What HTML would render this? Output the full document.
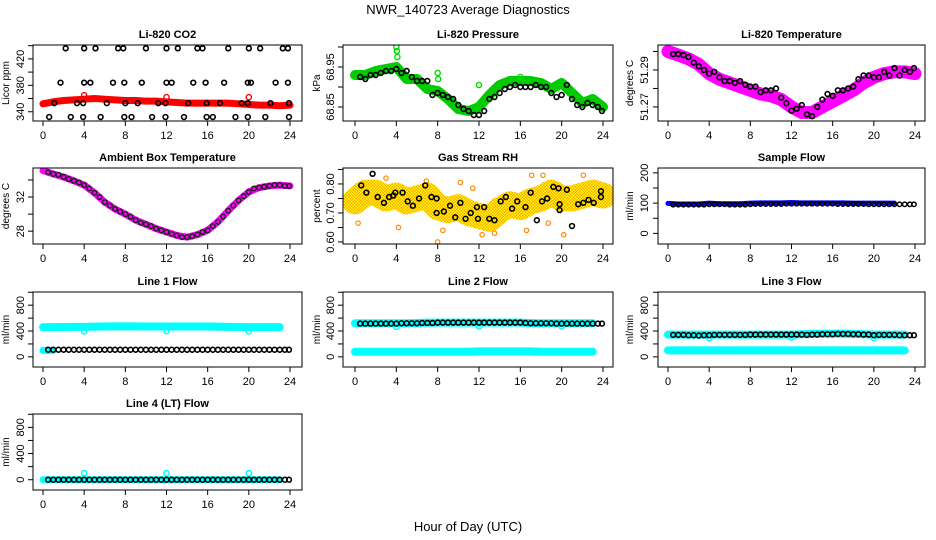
<!DOCTYPE html>
<html><head><meta charset="utf-8"><style>
body{margin:0;background:#fff;}
svg{display:block;font-family:"Liberation Sans",Arial,sans-serif;}
</style></head><body>
<svg id="c" width="936" height="540" viewBox="0 0 936 540" xmlns="http://www.w3.org/2000/svg">
<defs>
<pattern id="rhpat" width="3" height="3" patternUnits="userSpaceOnUse"><rect width="3" height="3" fill="#ffa500"/><rect width="1.5" height="1.5" fill="#ff0"/><rect x="1.5" y="1.5" width="1.5" height="1.5" fill="#ff0"/></pattern>
</defs>
<text x="468" y="14" text-anchor="middle" font-size="13">NWR_140723  Average Diagnostics</text>
<text x="468" y="531" text-anchor="middle" font-size="13">Hour of Day (UTC)</text>
</svg>
<script>
// shared hour positions
const HH=[0.5,1,1.5,2,2.5,3,3.5,4,4.5,5,5.5,6,6.5,7,7.5,8,8.5,9,9.5,10,10.5,11,11.5,12,12.5,13,13.5,14,14.5,15,15.5,16,16.5,17,17.5,18,18.5,19,19.5,20,20.5,21,21.5,22,22.5,23,23.5,23.9];
const BH=[0,1,2,3,4,5,6,7,8,9,10,11,12,13,14,15,16,17,18,19,20,21,22,23,24];
const xTicks=[0,4,8,12,16,20,24];
// CO2
const co2Red=[352,355,357,358,359,360,359,358,357,357,356,356,355,354,353,353,353,353,353,352,351,350,350,349,350];
const co2BlackX=[2.2,4,5.1,7.3,7.8,10,12,13.1,15,15.5,18,20,21.1,23.3,23.8,1.7,4,4.6,6.8,7.9,9.6,12,12.5,14.6,15.8,17.6,19.9,20.2,22.6,23.8,0.6,2.7,3.9,5.6,7.9,8.6,10.6,11.9,13.7,15.9,16.5,18.7,19.9,21.6,23.9,1.1,3.3,3.9,6.2,8,9.2,11.2,11.9,14.1,15.9,17.2,19.3,19.9,22.1,23.9];
const co2BlackY=[436,436,436,436,436,436,436,436,436,436,436,436,436,436,436,384,384,384,384,384,384,384,384,384,384,384,384,384,384,384,332,332,332,332,332,332,332,332,332,332,332,332,332,332,332,353,353,353,353,353,353,353,353,353,353,353,353,353,353,353];
const co2OutX=[4,12,20];
const co2OutY=[365,362,362];
// Pressure
const presGreen=[68.93,68.93,68.94,68.945,68.95,68.92,68.92,68.895,68.89,68.87,68.845,68.84,68.85,68.88,68.905,68.915,68.915,68.915,68.91,68.895,68.91,68.885,68.86,68.87,68.85];
const presOutX=[4,4.05,4.1,8,8.05,12,16];
const presOutY=[69.0,68.99,68.975,68.935,68.92,68.905,68.925];
const presBlack=[68.925,68.92,68.93,68.93,68.935,68.94,68.94,68.945,68.935,68.94,68.925,68.915,68.915,68.915,68.88,68.885,68.88,68.875,68.87,68.855,68.845,68.84,68.83,68.83,68.84,68.87,68.875,68.885,68.895,68.9,68.905,68.9,68.9,68.9,68.905,68.9,68.9,68.885,68.875,68.88,68.905,68.87,68.855,68.85,68.86,68.855,68.85,68.84];
// Li-820 temperature
const tempMag=[51.300,51.298,51.296,51.293,51.288,51.285,51.283,51.281,51.279,51.277,51.276,51.274,51.270,51.267,51.267,51.270,51.273,51.276,51.279,51.283,51.286,51.288,51.289,51.289,51.288];
const tempBlack=[51.2986,51.2986,51.298,51.297,51.294,51.292,51.290,51.288,51.289,51.286,51.284,51.284,51.283,51.284,51.282,51.281,51.281,51.278,51.279,51.279,51.280,51.275,51.272,51.268,51.269,51.271,51.266,51.265,51.270,51.274,51.277,51.276,51.279,51.279,51.280,51.281,51.285,51.287,51.287,51.286,51.286,51.289,51.287,51.291,51.287,51.290,51.289,51.291];
// Ambient
const ambMag=[35.1,34.7,34.35,33.9,33.4,32.5,31.4,30.6,30.0,29.3,28.8,28.3,27.9,27.5,27.3,27.6,28.1,29.1,30.4,31.6,32.6,33.1,33.3,33.4,33.3];
const ambBlack=[34.9,34.7,34.6,34.35,34.1,33.9,33.7,33.4,33.0,32.5,32.0,31.4,31.0,30.6,30.3,30.0,29.7,29.3,29.0,28.8,28.6,28.3,28.1,27.9,27.7,27.5,27.3,27.3,27.4,27.6,27.9,28.1,28.6,29.1,29.7,30.4,31.0,31.6,32.1,32.6,33.0,33.1,33.2,33.3,33.4,33.4,33.3,33.3];
// RH
const rhCloud=[0.74,0.77,0.77,0.75,0.76,0.74,0.75,0.76,0.72,0.71,0.72,0.70,0.69,0.68,0.71,0.73,0.72,0.74,0.75,0.77,0.75,0.75,0.76,0.77,0.76];
const rhOutX=[3,4.2,6.9,8,8.5,10.2,11.4,12.3,13.5,17.1,18.2,18.7,20.2,22.1,0.3,16.6];
const rhOutY=[0.82,0.65,0.81,0.60,0.64,0.805,0.785,0.625,0.63,0.83,0.83,0.665,0.625,0.83,0.665,0.64];
const rhBlackX=[0.6,1.1,1.7,2.2,2.8,3.3,3.7,3.9,4.6,5.1,5.6,6.2,6.8,7.4,7.9,7.9,8.6,9.2,9.7,10.2,10.7,11.2,11.8,11.9,12.5,13,13.5,14.1,14.6,15.2,15.7,16.5,17,17.6,18.1,18.6,19.2,19.7,19.8,19.8,20.5,21,21.6,22.1,22.6,23.1,23.8,23.8];
const rhBlackY=[0.795,0.77,0.835,0.755,0.735,0.755,0.76,0.77,0.77,0.74,0.725,0.75,0.795,0.755,0.75,0.70,0.705,0.725,0.685,0.735,0.68,0.70,0.72,0.68,0.72,0.68,0.675,0.74,0.755,0.715,0.74,0.72,0.77,0.675,0.74,0.75,0.79,0.785,0.73,0.71,0.78,0.655,0.73,0.735,0.745,0.735,0.775,0.755];
// Sample flow
const sampBlue=[99,97,97,97,100,98,98,98,100,101,101,101,102,101,101,101,101,101,100,100,100,100,100];
const sampBlack=[95,95,95,95,95,95,95,96,96,96,96,95,95,95,95,96,97,97,97,97,97,97,98,98,98,98,98,98,98,98,98,98,97,97,97,97,97,97,96,96,96,96,96,96,96,96,96,96];
// Line flows
const l1CyanHi=[460,460,462,465,465,468,470,472,472,472,470,470,470,470,470,470,470,468,465,462,460,460,460,460];
const l1CyanLo=[100,100];
const l1Black=[110,110,110,110,110,110,110,110,110,110,110,110,110,110,110,110,110,110,110,110,110,110,110,110,110,110,110,110,110,110,110,110,110,110,110,110,110,110,110,110,110,110,110,110,110,110,110,110];
const l1OutX=[4,12,20];const l1OutY=[395,400,395];
const l2CyanHi=[520,520,520,520,520,520,525,530,530,530,530,530,530,530,530,530,530,525,520,520,520,520,520,520];
const l2CyanLo=[80,80,80,80,80,80,80,80,80,80,80,80,85,85,85,85,85,85,80,80,80,80,80,80];
const l2Black=[515,515,515,515,515,515,515,515,520,520,520,520,525,525,525,530,530,530,530,530,530,530,530,530,530,530,530,530,530,530,530,530,525,520,520,520,520,520,515,515,515,515,515,515,515,515,515,515];
const l2OutX=[4,12,20];const l2OutY=[465,470,470];
const l3CyanHi=[345,345,345,345,345,345,345,345,345,345,345,345,345,350,355,360,360,360,355,350,345,345,345,345];
const l3CyanLo=[100,100,100,100,100,100,100,100,100,100,100,100,100,100,100,100,100,100,100,100,100,100,100,100];
const l3Black=[340,340,340,335,335,330,335,335,340,340,340,340,340,340,340,345,345,345,345,345,345,345,345,345,345,345,340,345,345,350,350,350,355,355,355,350,350,345,345,335,340,340,340,340,335,335,335,335];
const l3OutX=[4,12,20];const l3OutY=[290,300,290];
const l4Cyan=[0,0,0,0,0,0,0,0,0,0,0,0,0,0,0,0,0,0,0,0,0,0,0,0];
const l4Black=[0,0,0,0,0,0,0,0,0,0,0,0,0,0,0,0,0,0,0,0,0,0,0,0,0,0,0,0,0,0,0,0,0,0,0,0,0,0,0,0,0,0,0,0,0,0,0,0];
const l4OutX=[4,12,20];const l4OutY=[100,100,100];

const svg=document.getElementById('c');
const NS='http://www.w3.org/2000/svg';
function mk(tag,attrs,parent){const e=document.createElementNS(NS,tag);for(const k in attrs)e.setAttribute(k,attrs[k]);(parent||svg).appendChild(e);return e;}
const COLS=[{b0:33,b1:302,x0:43,x24:290,lab:9,tl:24},{b0:343,b1:613,x0:355,x24:603,lab:320,tl:334},{b0:658,b1:925,x0:668,x24:915,lab:633,tl:648}];
const ROWS=[[45,121],[168,244],[292,367],[414,490]];
function panel(name,col,row,title,ylab,ymin,ymax,ticks,labels){
  const C=COLS[col],R=ROWS[row];
  const g=mk('g',{});
  
  
  const P={g,C,R,xs:h=>C.x0+h*(C.x24-C.x0)/24,ys:v=>R[1]-(v-ymin)/(ymax-ymin)*(R[1]-R[0])};
  const clip=mk('clipPath',{id:'cl'+name},g);mk('rect',{x:C.b0,y:R[0],width:C.b1-C.b0,height:R[1]-R[0]},clip);
  P.d=mk('g',{'clip-path':'url(#cl'+name+')'},g);
  
  
  const t=mk('text',{x:(C.b0+C.b1)/2,y:R[0]-7,'text-anchor':'middle','font-size':11,'font-weight':'bold'},g);t.textContent=title;
  
  
  const yl=mk('text',{x:C.lab,y:(R[0]+R[1])/2,'text-anchor':'middle','font-size':10,transform:'rotate(-90 '+C.lab+' '+((R[0]+R[1])/2)+')'},g);yl.textContent=ylab;
  
  
  xTicks.forEach(h=>{const x=P.xs(h);mk('line',{x1:x,x2:x,y1:R[1],y2:R[1]+5,stroke:'#000'},g);
    const tx=mk('text',{x:x,y:R[1]+18,'text-anchor':'middle','font-size':11},g);tx.textContent=h;
    
    });
  ticks.forEach((v,i)=>{const y=P.ys(v);mk('line',{x1:C.b0-5,x2:C.b0,y1:y,y2:y,stroke:'#000'},g);
    if(labels[i]){const ty=mk('text',{x:C.tl,y:y,'text-anchor':'middle','font-size':11,transform:'rotate(-90 '+C.tl+' '+y+')'},g);ty.textContent=labels[i];
    
    }});
  return P;
}
function frame(P){mk('rect',{x:P.C.b0,y:P.R[0],width:P.C.b1-P.C.b0,height:P.R[1]-P.R[0],fill:'none',stroke:'#000','stroke-width':1},P.g);}
function band(P,xs,vals,color,w,name){const n=Math.min(xs.length,vals.length);let pts=[];for(let i=0;i<n;i++)pts.push(P.xs(xs[i])+','+P.ys(vals[i]));
  const l=mk('polyline',{points:pts.join(' '),fill:'none',stroke:color,'stroke-width':w,'stroke-linejoin':'round','stroke-linecap':'round'},P.d);
  
  }
function pts(P,xs,vals,color,r,sw,name){const n=Math.min(xs.length,vals.length);for(let i=0;i<n;i++){
  const c=mk('circle',{cx:P.xs(xs[i]),cy:P.ys(vals[i]),r:r,fill:'none',stroke:color,'stroke-width':sw},P.d);
  
  }}

let P;
P=panel('co2',0,0,'Li-820 CO2','Licor ppm',326,441,[340,360,380,400,420,440],['340','','380','','420','']);
band(P,BH,co2Red,'#f00',7,'co2-red-band');pts(P,co2OutX,co2OutY,'#f00',2.6,1.4,'co2-red-outlier');pts(P,co2BlackX,co2BlackY,'#000',2.4,1.6,'co2-point');frame(P);

P=panel('pressure',1,0,'Li-820 Pressure','kPa',68.815,69.005,[68.85,68.9,68.95,69.0],['68.85','','68.95','']);
band(P,BH,presGreen,'#0c0',10,'pressure-green-band');pts(P,presOutX,presOutY,'#0d0',2.6,1.4,'pressure-green-point');pts(P,HH,presBlack,'#000',2.4,1.6,'pressure-point');frame(P);

P=panel('temperature',2,0,'Li-820 Temperature','degrees C',51.2624,51.3035,[51.27,51.28,51.29,51.30],['51.27','','51.29','']);
band(P,BH,tempMag,'#f0f',13,'temperature-magenta-band');pts(P,HH,tempBlack,'#000',2.4,1.6,'temperature-point');frame(P);

P=panel('ambient',0,1,'Ambient Box Temperature','degrees C',26.5,35.4,[28,30,32,34],['28','','32','']);
band(P,BH,ambMag,'#f0f',7,'ambient-magenta-band');pts(P,HH,ambBlack,'#222',2.3,1.5,'ambient-point');frame(P);

P=panel('rh',1,1,'Gas Stream RH','percent',0.593,0.855,[0.6,0.65,0.7,0.75,0.8,0.85],['0.60','','0.70','','0.80','']);
band(P,BH,rhCloud,'url(#rhpat)',26,'rh-cloud');pts(P,rhOutX,rhOutY,'#f80',2.2,1.2,'rh-outlier');pts(P,rhBlackX,rhBlackY,'#000',2.4,1.6,'rh-point');frame(P);

P=panel('sample-flow',2,1,'Sample Flow','ml/min',-35,216,[0,50,100,150,200],['0','','100','','200']);
band(P,BH,sampBlue,'#00f',5,'sample-blue-band');pts(P,HH,sampBlack,'#000',2.2,1.5,'sample-point');frame(P);

const FT=[0,200,400,600,800,1000],FL=['0','','400','','800',''];
P=panel('line1',0,2,'Line 1 Flow','ml/min',-157,1004,FT,FL);
band(P,BH,l1CyanHi,'#0ff',8,'line1-cyan-high');band(P,BH,l1CyanLo,'#0ff',7,'line1-cyan-low');pts(P,l1OutX,l1OutY,'#0ff',2.6,1.5,'line1-outlier');pts(P,HH,l1Black,'#000',2.4,1.6,'line1-point');frame(P);

P=panel('line2',1,2,'Line 2 Flow','ml/min',-157,1004,FT,FL);
band(P,BH,l2CyanHi,'#0ff',8,'line2-cyan-high');band(P,BH,l2CyanLo,'#0ff',8,'line2-cyan-low');pts(P,l2OutX,l2OutY,'#0ff',2.6,1.5,'line2-outlier');pts(P,HH,l2Black,'#000',2.4,1.6,'line2-point');frame(P);

P=panel('line3',2,2,'Line 3 Flow','ml/min',-157,1004,FT,FL);
band(P,BH,l3CyanHi,'#0ff',8,'line3-cyan-high');band(P,BH,l3CyanLo,'#0ff',8,'line3-cyan-low');pts(P,l3OutX,l3OutY,'#0ff',2.6,1.5,'line3-outlier');pts(P,HH,l3Black,'#000',2.4,1.6,'line3-point');frame(P);

P=panel('line4',0,3,'Line 4 (LT) Flow','ml/min',-157,1004,FT,FL);
band(P,BH,l4Cyan,'#0ff',7,'line4-cyan');pts(P,l4OutX,l4OutY,'#0ff',2.6,1.5,'line4-outlier');pts(P,HH,l4Black,'#000',2.4,1.6,'line4-point');frame(P);
</script>
</body></html>
